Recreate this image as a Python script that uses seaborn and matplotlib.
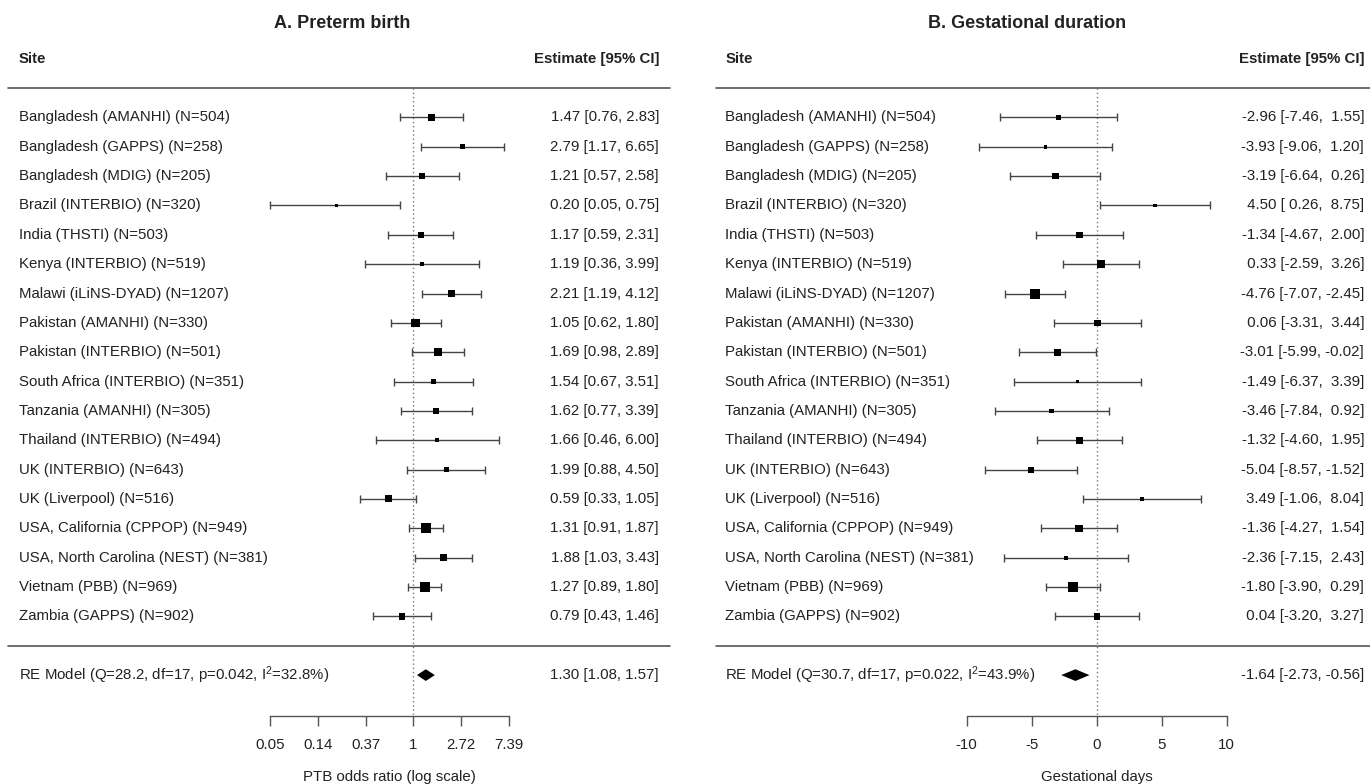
import numpy as np
import pandas as pd
import seaborn as sns
import matplotlib.pyplot as plt

# dane
sites = ['Bangladesh (AMANHI)', 'Bangladesh (GAPPS)', 'Bangladesh (MDIG)', 'Brazil (INTERBIO)',
         'India (THSTI)', 'Kenya (INTERBIO)', 'Malawi (iLiNS-DYAD)', 'Pakistan (AMANHI)',
         'Pakistan (INTERBIO)', 'South Africa (INTERBIO)', 'Tanzania (AMANHI)', 'Thailand (INTERBIO)',
         'UK (INTERBIO)', 'UK (Liverpool)', 'USA, California (CPPOP)', 'USA, North Carolina (NEST)',
         'Vietnam (PBB)', 'Zambia (GAPPS)']
n_obs = [504, 258, 205, 320, 503, 519, 1207, 330, 501, 351, 305, 494, 643, 516, 949, 381, 969, 902]

ptb_est = [1.47, 2.79, 1.21, 0.20, 1.17, 1.19, 2.21, 1.05, 1.69, 1.54, 1.62, 1.66, 1.99, 0.59, 1.31, 1.88, 1.27, 0.79]
ptb_lo = [0.76, 1.17, 0.57, 0.05, 0.59, 0.36, 1.19, 0.62, 0.98, 0.67, 0.77, 0.46, 0.88, 0.33, 0.91, 1.03, 0.89, 0.43]
ptb_hi = [2.83, 6.65, 2.58, 0.75, 2.31, 3.99, 4.12, 1.80, 2.89, 3.51, 3.39, 6.00, 4.50, 1.05, 1.87, 3.43, 1.80, 1.46]
ptb_w = [6.5, 5, 6, 3, 6, 4, 7, 8.5, 8, 5, 6, 4, 5, 7, 10, 6.5, 10, 6.5]
ptb_re = (1.30, 1.08, 1.57)
ptb_re_lab = 'RE Model (Q=28.2, df=17, p=0.042, I$^{2}$=32.8%)'
ptb_ticks = [-3, -2, -1, 0, 1, 2]
ptb_ticklabels = ['0.05', '0.14', '0.37', '1', '2.72', '7.39']

gd_est = [-2.96, -3.93, -3.19, 4.50, -1.34, 0.33, -4.76, 0.06, -3.01, -1.49, -3.46, -1.32, -5.04, 3.49, -1.36, -2.36, -1.80, 0.04]
gd_lo = [-7.46, -9.06, -6.64, 0.26, -4.67, -2.59, -7.07, -3.31, -5.99, -6.37, -7.84, -4.60, -8.57, -1.06, -4.27, -7.15, -3.90, -3.20]
gd_hi = [1.55, 1.20, 0.26, 8.75, 2.00, 3.26, -2.45, 3.44, -0.02, 3.39, 0.92, 1.95, -1.52, 8.04, 1.54, 2.43, 0.29, 3.27]
gd_w = [5, 3.5, 6.5, 3.5, 6.5, 8, 10, 6.5, 7, 3.5, 4.5, 6.5, 6, 3.5, 7.5, 4, 10, 6.5]
gd_re = (-1.64, -2.73, -0.56)
gd_re_lab = 'RE Model (Q=30.7, df=17, p=0.022, I$^{2}$=43.9%)'
gd_ticks = [-10, -5, 0, 5, 10]
gd_ticklabels = ['-10', '-5', '0', '5', '10']

sns.set_style('white')
plt.rcParams['font.family'] = ['Liberation Sans', 'DejaVu Sans']
plt.rcParams['mathtext.fontset'] = 'custom'
plt.rcParams['mathtext.rm'] = 'Liberation Sans'
plt.rcParams['mathtext.it'] = 'Liberation Sans'

FS = 10.8
TXT = '#222222'
LINE = '#555555'
PX = 0.72  # punkty na piksel przy dpi=100

fig = plt.figure(figsize=(13.7, 7.84), dpi=100)


def forest(ax, title, est, lo, hi, w, re, re_lab, ticks, ticklabels, xlabel, xlim, xtext, xline, fmt, log=False):
    est = np.array(est, dtype=float)
    lo = np.array(lo, dtype=float)
    hi = np.array(hi, dtype=float)
    lab_est = [fmt.format(e) + ' [' + fmt.format(l) + ', ' + fmt.format(h) + ']' for e, l, h in zip(est, lo, hi)]
    re_txt = fmt.format(re[0]) + ' [' + fmt.format(re[1]) + ', ' + fmt.format(re[2]) + ']'
    if log:
        est, lo, hi = np.log(est), np.log(lo), np.log(hi)
        re = np.log(re)
    rows = np.arange(len(est))
    df = pd.DataFrame({'est': est, 'row': rows})

    ax.set_xlim(*xlim)
    ax.set_ylim(22.71, -4.0)

    # linie
    ax.plot(xline, [-1, -1], color=LINE, lw=1.2)
    ax.plot(xline, [18, 18], color=LINE, lw=1.2)
    ax.plot([0, 0], [-1, 20.4], color='#777777', lw=1, ls=(0, (1, 2)))

    ax.errorbar(est, rows, xerr=[est - lo, hi - est], fmt='none', ecolor='#444444',
                elinewidth=1, capsize=2.6, capthick=1)
    sns.scatterplot(data=df, x='est', y='row', marker='s', s=(np.array(w) * PX) ** 2,
                    color='black', edgecolor='black', linewidth=0, ax=ax, legend=False, zorder=3)

    h = 0.2
    ax.fill([re[1], re[0], re[2], re[0]], [19, 19 - h, 19, 19 + h], color='black', lw=0, zorder=3)

    # teksty
    ax.text(np.mean(xlim), -3.2, title, ha='center', va='center', fontsize=13, fontweight='bold', color=TXT)
    ax.text(xtext[0], -2, 'Site', ha='left', va='center', fontsize=FS, fontweight='bold', color=TXT)
    ax.text(xtext[1], -2, 'Estimate [95% CI]', ha='right', va='center', fontsize=FS, fontweight='bold', color=TXT)
    for r, s, n, t in zip(rows, sites, n_obs, lab_est):
        ax.text(xtext[0], r, '%s (N=%d)' % (s, n), ha='left', va='center', fontsize=FS, color=TXT)
        ax.text(xtext[1], r, t, ha='right', va='center', fontsize=FS, color=TXT)
    ax.text(xtext[0], 19, re_lab, ha='left', va='center', fontsize=FS, color=TXT)
    ax.text(xtext[1], 19, re_txt, ha='right', va='center', fontsize=FS, color=TXT)
    ax.text(np.mean([ticks[0], ticks[-1]]), 22.46, xlabel, ha='center', va='center', fontsize=FS, color=TXT)

    # os
    for sp in ['top', 'left', 'right']:
        ax.spines[sp].set_visible(False)
    ax.spines['bottom'].set_position(('data', 20.4))
    ax.spines['bottom'].set_bounds(ticks[0], ticks[-1])
    ax.spines['bottom'].set_color(LINE)
    ax.spines['bottom'].set_linewidth(1)
    ax.set_xticks(ticks)
    ax.set_xticklabels(ticklabels)
    ax.tick_params(axis='x', direction='out', length=7, width=1, color=LINE, pad=9,
                   labelsize=FS, labelcolor=TXT, bottom=True)
    ax.set_yticks([])
    ax.set_xlabel('')
    ax.set_ylabel('')


ax1 = fig.add_axes([0, 0, 0.5, 1])
forest(ax1, 'A. Preterm birth', ptb_est, ptb_lo, ptb_hi, ptb_w, ptb_re, ptb_re_lab,
       ptb_ticks, ptb_ticklabels, 'PTB odds ratio (log scale)',
       xlim=(-8.665, 5.696), xtext=(-8.266, 5.151), xline=(-8.497, 5.381), fmt='{:.2f}', log=True)

ax2 = fig.add_axes([0.5, 0, 0.5, 1])
forest(ax2, 'B. Gestational duration', gd_est, gd_lo, gd_hi, gd_w, gd_re, gd_re_lab,
       gd_ticks, gd_ticklabels, 'Gestational days',
       xlim=(-31.67, 21.02), xtext=(-28.58, 20.57), xline=(-29.28, 21.02), fmt='{:5.2f}')

fig.savefig('out.png', dpi=100)
